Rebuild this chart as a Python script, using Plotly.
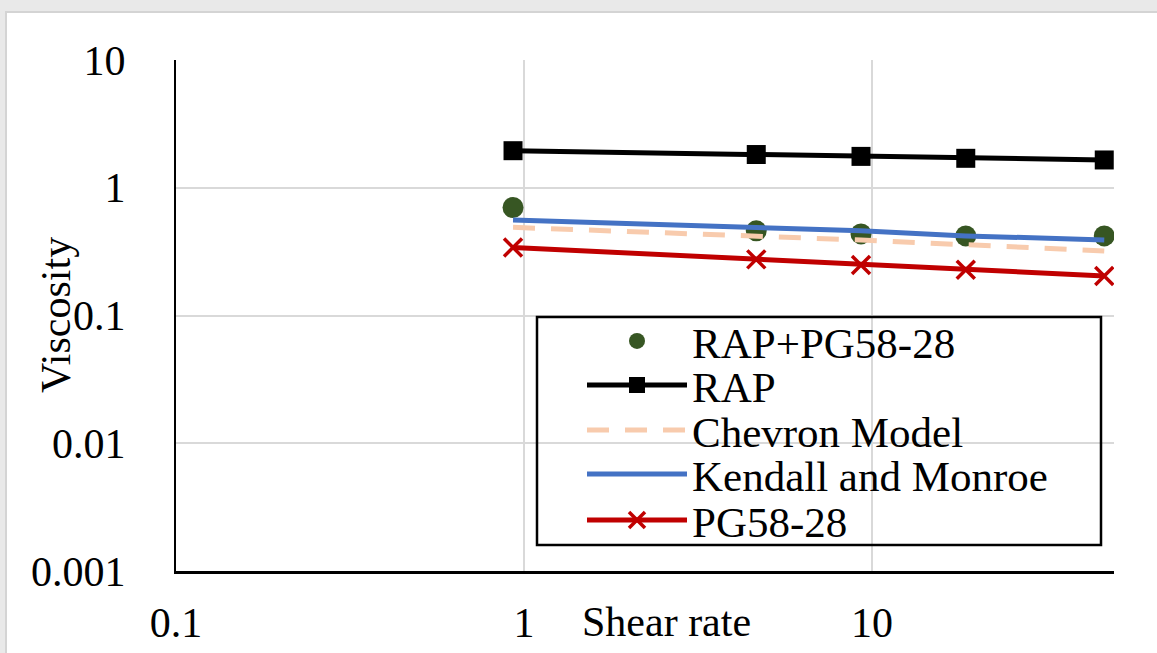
import math
import plotly.graph_objects as go

# ---- data ----
shear_rate = [0.93, 4.65, 9.3, 18.6, 46.5]
rap_pg = [0.70, 0.46, 0.435, 0.42, 0.42]
rap = [1.95, 1.82, 1.76, 1.70, 1.65]
chevron = [0.49, 0.42, 0.39, 0.358, 0.32]
kendall = [0.56, 0.495, 0.46, 0.42, 0.39]
pg5828 = [0.341, 0.275, 0.248, 0.228, 0.204]

x_ticks = [0.1, 1, 10]
x_ticktext = ["0.1", "1", "10"]
y_ticks = [0.001, 0.01, 0.1, 1, 10]
y_ticktext = ["0.001", "0.01", "0.1", "1", "10"]

FONT = "Liberation Serif, Times New Roman, serif"

# plot-area geometry in pixels (layout only)
W, H = 1157, 653
L, R, T, B = 176, 1114, 60, 571
def px_x(p):
    return (p - L) / (R - L)
def px_y(p):
    return (B - p) / (B - T)

fig = go.Figure()
fig.add_trace(go.Scatter(x=shear_rate, y=rap_pg, name="RAP+PG58-28", mode="markers",
                         legend="legend",
                         marker=dict(symbol="circle", size=21, color="#375623")))
fig.add_trace(go.Scatter(x=shear_rate, y=rap, name="RAP", mode="lines+markers",
                         legend="legend2",
                         line=dict(color="#000000", width=5),
                         marker=dict(symbol="square", size=19, color="#000000")))
fig.add_trace(go.Scatter(x=shear_rate, y=chevron, name="Chevron Model", mode="lines",
                         legend="legend3",
                         line=dict(color="#f8cbad", width=5, dash="22px,16px")))
fig.add_trace(go.Scatter(x=shear_rate, y=kendall, name="Kendall and Monroe", mode="lines",
                         legend="legend4",
                         line=dict(color="#4472c4", width=5)))
fig.add_trace(go.Scatter(x=shear_rate, y=pg5828, name="PG58-28", mode="lines+markers",
                         legend="legend5",
                         line=dict(color="#c00000", width=5),
                         marker=dict(symbol="x-thin", size=18,
                                     line=dict(color="#c00000", width=3.5))))

fig.update_xaxes(type="log", range=[-1, math.log10(49.6)], automargin=False,
                 tickvals=x_ticks, ticktext=x_ticktext,
                 showline=True, linecolor="#000000", linewidth=3,
                 showgrid=True, gridcolor="#d9d9d9", gridwidth=2,
                 zeroline=False, ticks="", ticklabelstandoff=13,
                 tickfont=dict(family=FONT, size=42, color="#000000"))
fig.update_yaxes(type="log", range=[-3, 1], automargin=False,
                 tickvals=y_ticks, ticktext=y_ticktext,
                 showline=True, linecolor="#000000", linewidth=2,
                 showgrid=True, gridcolor="#d9d9d9", gridwidth=2,
                 zeroline=False, ticks="", ticklabelstandoff=40,
                 tickfont=dict(family=FONT, size=42, color="#000000"))

fig.add_annotation(text="Shear rate", xref="paper", yref="paper", x=px_x(666), y=px_y(622),
                   xanchor="center", yanchor="middle", showarrow=False,
                   font=dict(family=FONT, size=42, color="#000000"))
fig.add_annotation(text="Viscosity", xref="paper", yref="paper", x=px_x(56), y=px_y(315),
                   xanchor="center", yanchor="middle", showarrow=False, textangle=-90,
                   font=dict(family=FONT, size=42, color="#000000"))

# white card on a light grey screenshot background
fig.add_shape(type="rect", xref="paper", yref="paper",
              x0=px_x(6), x1=px_x(1170), y0=px_y(670), y1=px_y(12),
              fillcolor="#ffffff", line=dict(color="#d4d4d4", width=2), layer="below")
# legend frame (transparent, gridlines show through as in the original)
fig.add_shape(type="rect", xref="paper", yref="paper",
              x0=px_x(537), x1=px_x(1101), y0=px_y(545), y1=px_y(317),
              fillcolor="rgba(0,0,0,0)", line=dict(color="#000000", width=2.5), layer="above")

row_centers = [341, 385, 430, 474, 520]
legend_common = dict(xanchor="left", yanchor="middle", bgcolor="rgba(0,0,0,0)",
                     borderwidth=0, itemwidth=100,
                     font=dict(family=FONT, size=43, color="#000000"))
legends = {}
for i, c in enumerate(row_centers):
    key = "legend" if i == 0 else f"legend{i + 1}"
    legends[key] = dict(x=px_x(582), y=px_y(c), **legend_common)

fig.update_layout(
    width=W, height=H,
    margin=dict(l=L, r=W - R, t=T, b=H - B, autoexpand=False),
    paper_bgcolor="#e9e9e9", plot_bgcolor="#ffffff",
    showlegend=True,
    **legends,
)

fig.write_html("out.html", config={"displayModeBar": False},
               post_script="document.body.style.margin='0px';document.body.style.padding='0px';")
